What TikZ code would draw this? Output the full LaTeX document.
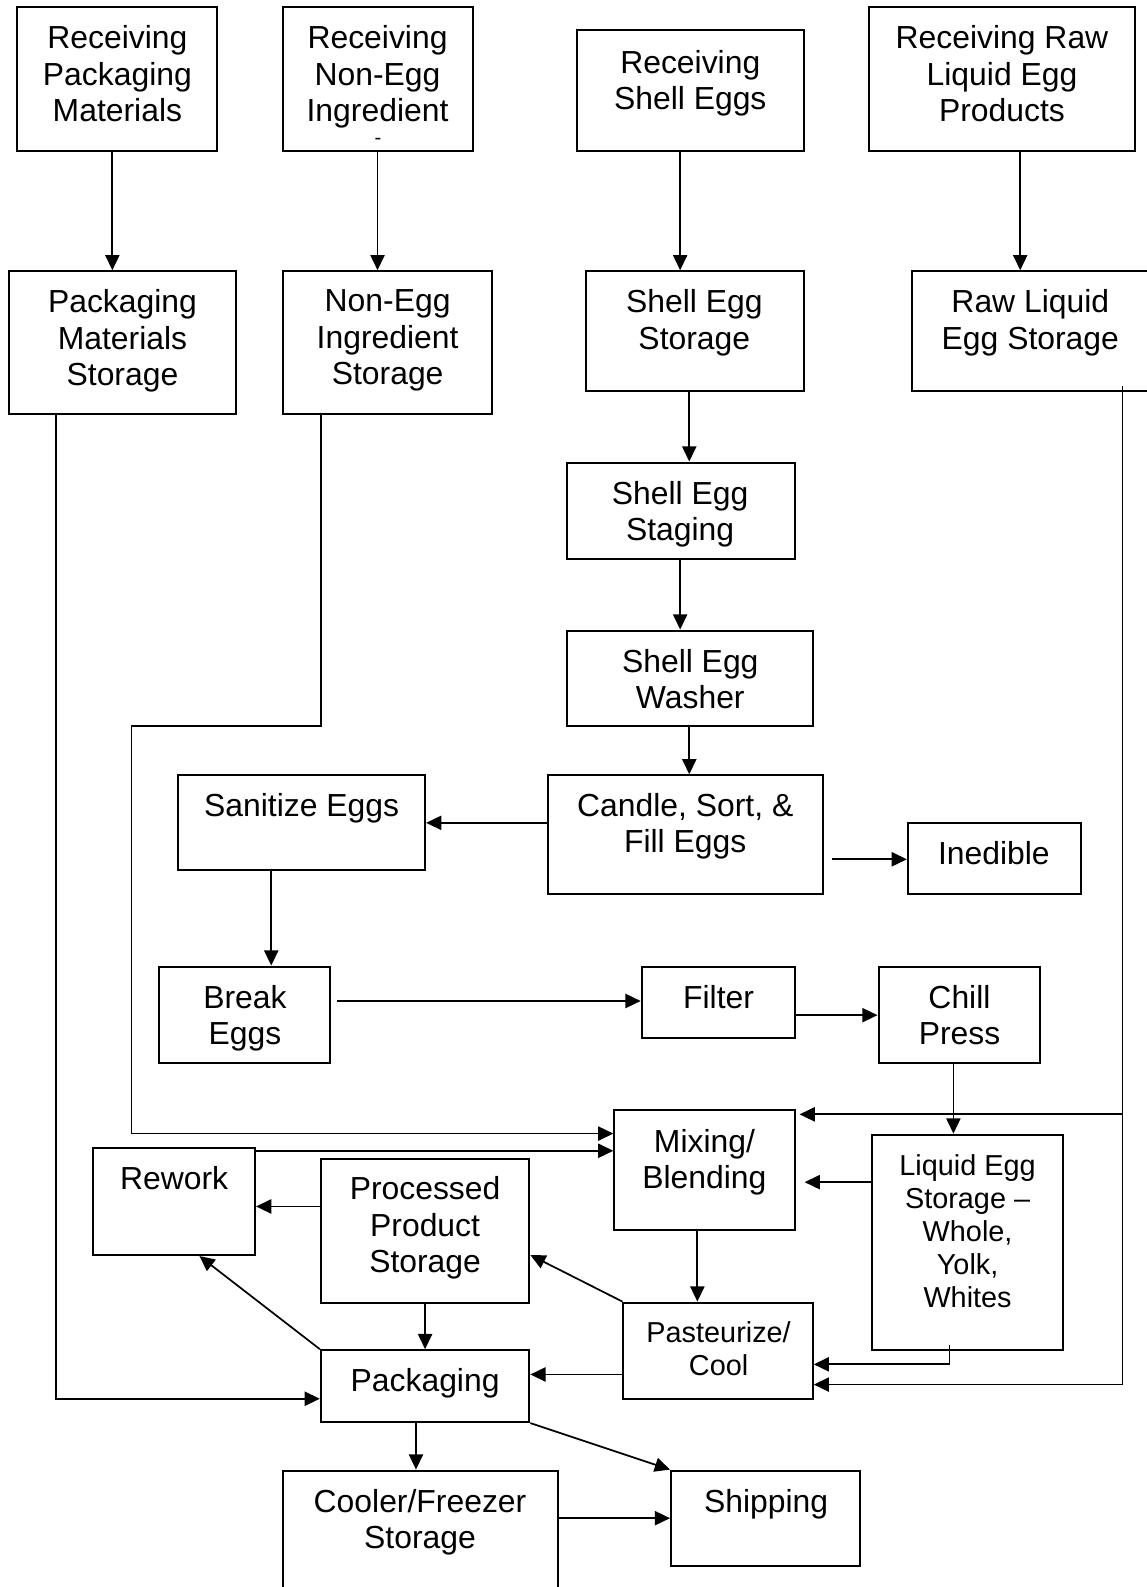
\documentclass[tikz,border=0pt]{standalone}
\usepackage{fontspec}
\setmainfont{Liberation Sans}
\usetikzlibrary{arrows.meta,fit}
\begin{document}
\begin{tikzpicture}[x=0.5pt,y=-0.5pt,
  boxst/.style={draw, line width=1pt, inner sep=0pt},
  txt/.style={inner sep=0pt, align=center, anchor=north, font=\fontsize{15.75pt}{18pt}\selectfont},
  stxt/.style={txt, font=\fontsize{14.25pt}{16.4pt}\selectfont},
  conn/.style={line width=0.85pt},
  arr/.style={conn, -{Triangle[length=7.5pt,width=7pt]}}]
\fill[white] (0,0) rectangle (1133,1568);
\useasboundingbox (0,0) rectangle (1133,1568);
% boxes
\node[boxst, fit={(17,7) (214,149)}] (RecvPack) {};
\node[boxst, fit={(280,7) (467,149)}] (RecvNonEgg) {};
\node[boxst, fit={(570,30) (794,149)}] (RecvShell) {};
\node[boxst, fit={(859,7) (1121,149)}] (RecvRaw) {};
\node[boxst, fit={(9,268) (233,409)}] (PackStor) {};
\node[boxst, fit={(280,268) (486,409)}] (NonEggStor) {};
\node[boxst, fit={(579,268) (794,386)}] (ShellStor) {};
\node[boxst, fit={(901,268) (1150,386)}] (RawStor) {};
\node[boxst, fit={(560,457) (785,552)}] (Staging) {};
\node[boxst, fit={(560,623) (803,717)}] (Washer) {};
\node[boxst, fit={(541,766) (813,883)}] (Candle) {};
\node[boxst, fit={(176,766) (420,860)}] (Sanitize) {};
\node[boxst, fit={(897,813) (1068,883)}] (Inedible) {};
\node[boxst, fit={(157,955) (326,1050)}] (Break) {};
\node[boxst, fit={(634,955) (785,1026)}] (Filter) {};
\node[boxst, fit={(868,955) (1028,1050)}] (Chill) {};
\node[boxst, fit={(607,1097) (785,1215)}] (Mixing) {};
\node[boxst, fit={(862,1121) (1050,1334)}] (Liquid) {};
\node[boxst, fit={(616,1287) (803,1382)}] (Pasteurize) {};
\node[boxst, fit={(92,1134) (252,1240)}] (Rework) {};
\node[boxst, fit={(317,1145) (523,1287)}] (Processed) {};
\node[boxst, fit={(317,1334) (523,1405)}] (Packaging) {};
\node[boxst, fit={(280,1453) (551,1590)}] (Cooler) {};
\node[boxst, fit={(663,1453) (850,1547)}] (Shipping) {};
% texts
\node[txt] (RecvPack-t) at (116,25) {Receiving\\Packaging\\Materials};
\node[txt] (RecvNonEgg-t) at (373,25) {Receiving\\Non-Egg\\Ingredient};
\node[inner sep=0pt, anchor=center, font=\fontsize{10pt}{12pt}\selectfont] (RecvNonEgg-d) at (373.5,140) {-};
\node[txt] (RecvShell-t) at (682,49) {Receiving\\Shell Eggs};
\node[txt] (RecvRaw-t) at (990,25) {Receiving Raw\\Liquid Egg\\Products};
\node[txt] (PackStor-t) at (121,286) {Packaging\\Materials\\Storage};
\node[txt] (NonEggStor-t) at (383,286) {Non-Egg\\Ingredient\\Storage};
\node[txt] (ShellStor-t) at (686,286) {Shell Egg\\Storage};
\node[txt] (RawStor-t) at (1018,286) {Raw Liquid\\Egg Storage};
\node[txt] (Staging-t) at (672,475) {Shell Egg\\Staging};
\node[txt] (Washer-t) at (682,641) {Shell Egg\\Washer};
\node[txt] (Candle-t) at (677,783) {Candle, Sort, \&\\Fill Eggs};
\node[txt] (Sanitize-t) at (298,783) {Sanitize Eggs};
\node[txt] (Inedible-t) at (982,831) {Inedible};
\node[txt] (Break-t) at (242,973) {Break\\Eggs};
\node[txt] (Filter-t) at (710,973) {Filter};
\node[txt] (Chill-t) at (948,973) {Chill\\Press};
\node[txt] (Mixing-t) at (696,1115) {Mixing/\\Blending};
\node[stxt] (Liquid-t) at (956,1140) {Liquid Egg\\Storage –\\Whole,\\Yolk,\\Whites};
\node[stxt] (Pasteurize-t) at (710,1305) {Pasteurize/\\Cool};
\node[txt] (Rework-t) at (172,1152) {Rework};
\node[txt] (Processed-t) at (420,1162) {Processed\\Product\\Storage};
\node[txt] (Packaging-t) at (420,1352) {Packaging};
\node[txt] (Cooler-t) at (415,1471) {Cooler/Freezer\\Storage};
\node[txt] (Shipping-t) at (757,1471) {Shipping};
% connectors
\draw[arr] (RecvPack.south -| 111,0) -- (PackStor.north -| 111,0);
\draw[arr] (RecvNonEgg.south -| 373,0) -- (NonEggStor.north -| 373,0);
\draw[arr] (RecvShell.south -| 672,0) -- (ShellStor.north -| 672,0);
\draw[arr] (RecvRaw.south -| 1008,0) -- (RawStor.north -| 1008,0);
\draw[arr] (ShellStor.south -| 681,0) -- (Staging.north -| 681,0);
\draw[arr] (Staging.south -| 672,0) -- (Washer.north -| 672,0);
\draw[arr] (Washer.south -| 681,0) -- (Candle.north -| 681,0);
\draw[arr] (Candle.west |- 0,813) -- (Sanitize.east |- 0,813);
\coordinate (inedStart) at (822,849);
\draw[arr] (inedStart) -- (Inedible.west |- inedStart);
\draw[arr] (Sanitize.south -| 268,0) -- (Break.north -| 268,0);
\coordinate (breakStart) at (333,989);
\draw[arr] (breakStart) -- (Filter.west |- breakStart);
\draw[arr] (Filter.east |- 0,1003) -- (Chill.west |- 0,1003);
\draw[arr] (Chill.south -| 942,0) -- (Liquid.north -| 942,0);
\coordinate (mixEnd) at (795,1168);
\draw[arr] (Liquid.west |- mixEnd) -- (mixEnd);
\draw[arr] (Mixing.south -| 689,0) -- (Pasteurize.north -| 689,0);
\coordinate (liqCorner) at (938,1348);
\draw[arr] ([yshift=3pt]Liquid.south -| liqCorner) -- (liqCorner) -- (Pasteurize.east |- liqCorner);
\coordinate (rawCorner) at (1109,1368);
\coordinate (rawBranch) at (1109,1101);
\draw[arr] ([yshift=3pt]RawStor.south -| rawCorner) -- (rawCorner) -- (Pasteurize.east |- rawCorner);
\draw[arr] (rawBranch) -- ([xshift=2pt]Mixing.east |- rawBranch);
\draw[arr] (NonEggStor.south -| 317,0) -- (317,717) -- (130,717) -- (130,1120) -- (Mixing.west |- 0,1120);
\draw[arr] (Rework.east |- 0,1137) -- (Mixing.west |- 0,1137);
\draw[arr] (Processed.west |- 0,1192) -- (Rework.east |- 0,1192);
\draw[arr] (Processed.south -| 420,0) -- (Packaging.north -| 420,0);
\draw[arr] (Packaging.north west) -- (Rework.south -| 197,0);
\draw[arr] (Pasteurize.north west) -- (Processed.east |- 0,1240);
\draw[arr] (Pasteurize.west |- 0,1358) -- (Packaging.east |- 0,1358);
\draw[arr] (PackStor.south -| 55,0) -- (55,1382) -- (Packaging.west |- 0,1382);
\draw[arr] (Packaging.south -| 411,0) -- (Cooler.north -| 411,0);
\draw[arr] (Packaging.south east) -- (Shipping.north west);
\draw[arr] (Cooler.east |- 0,1500) -- (Shipping.west |- 0,1500);
\end{tikzpicture}
\end{document}
